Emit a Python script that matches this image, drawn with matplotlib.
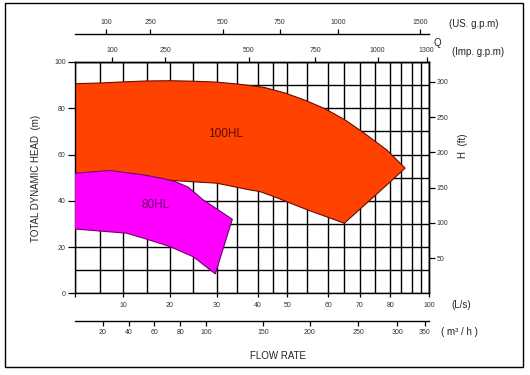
import numpy as np
import matplotlib
matplotlib.use("Agg")
import matplotlib.pyplot as plt
from matplotlib.patches import Rectangle
from matplotlib.ticker import NullLocator

plt.rcParams["font.family"] = ["Liberation Sans", "DejaVu Sans"]

W, H = 530, 375

# nonlinear flow scale of the printed chart: L/s value -> offset along the axis
SCALE_LPS = [0, 5, 10, 15, 20, 25, 30, 35, 40, 45, 50, 55, 60, 65, 70, 75, 80, 85, 90, 95, 100]
SCALE_POS = [0.0, 25.3, 48.6, 72.0, 95.3, 118.6, 142.0, 162.0, 183.3, 198.6, 212.6,
             232.6, 253.6, 269.6, 285.3, 300.6, 315.6, 326.0, 337.0, 346.0, 354.6]

# unit conversions to L/s
M3H_TO_LPS = 1 / 3.6
IMP_TO_LPS = 0.0757682
US_TO_LPS = 0.0630902
M_TO_FT = 1 / 0.3048

LPS_TICKS = [0, 10, 20, 30, 40, 50, 60, 70, 80, 100]
LPS_LABELS = ["", "10", "20", "30", "40", "50", "60", "70", "80", "100"]
M3H_TICKS = [20, 40, 60, 80, 100, 150, 200, 250, 300, 350]
IMP_TICKS = [100, 250, 500, 750, 1000, 1300]
US_TICKS = [100, 250, 500, 750, 1000, 1500]
HEAD_M_TICKS = [0, 20, 40, 60, 80, 100]
HEAD_FT_TICKS = [50, 100, 150, 200, 250, 300]

# 100HL envelope (L/s, m)
hl100_top_q = [0, 5, 10, 15, 20, 25, 30, 35, 40, 42.3, 49.2, 54.4, 59.2, 65.2, 71.6, 78.8, 87.0]
hl100_top_h = [90.6, 90.9, 91.4, 91.8, 91.9, 91.7, 91.3, 90.5, 89.4, 88.9, 86.6, 83.5,
               79.8, 75.0, 69.0, 62.0, 54.1]
hl100_bot_q = [0, 15, 21.1, 30, 38.1, 40.6, 45, 55, 60, 65]
hl100_bot_h = [50.5, 49.5, 48.7, 47.6, 44.7, 44.0, 41.9, 36.1, 32.8, 30.3]

# 80HL envelope (L/s, m)
hl80_top_q = [0, 7.1, 14.3, 18.5, 21.1, 23.9, 27.1, 30, 33.9]
hl80_top_h = [51.9, 53.1, 51.2, 49.6, 48.3, 45.9, 40.4, 36.5, 32.0]
hl80_bot_q = [0, 10.7, 15, 20, 25, 29.7]
hl80_bot_h = [27.8, 26.0, 23.4, 20.2, 15.8, 8.4]


def fwd(v):
    v = np.asarray(v, dtype=float)
    out = np.interp(v, SCALE_LPS, SCALE_POS)
    out = np.where(v < 0, v * SCALE_POS[1] / 5, out)
    out = np.where(v > 100, SCALE_POS[-1] + (v - 100) * 8.6 / 5, out)
    return out


def inv(p):
    p = np.asarray(p, dtype=float)
    out = np.interp(p, SCALE_POS, SCALE_LPS)
    out = np.where(p < 0, p * 5 / SCALE_POS[1], out)
    out = np.where(p > SCALE_POS[-1], 100 + (p - SCALE_POS[-1]) * 5 / 8.6, out)
    return out


def fx(x):
    return x / W


def fy(y):
    return 1 - y / H


def flow_twin(parent, values, factor, spine_pos):
    t = parent.twiny()
    t.set_xscale("function", functions=(fwd, inv))
    t.set_xlim(0, 100)
    for s in t.spines.values():
        s.set_visible(False)
    side = "bottom" if spine_pos < 0.5 else "top"
    t.xaxis.set_ticks_position(side)
    t.spines[side].set_visible(True)
    t.spines[side].set_position(("axes", spine_pos))
    t.spines[side].set_linewidth(1.0)
    t.set_xticks([v * factor for v in values])
    t.set_xticklabels([str(v) for v in values])
    t.xaxis.set_minor_locator(NullLocator())
    t.tick_params(axis="x", direction="out", length=3.5, width=0.9, pad=2.5,
                  labelsize=5, labelcolor="#333333")
    return t


fig = plt.figure(figsize=(W / 100, H / 100), dpi=100)
ax = fig.add_axes([fx(74.7), fy(293.3), (429.3 - 74.7) / W, (293.3 - 62) / H])

ax.set_xscale("function", functions=(fwd, inv))
ax.set_xlim(0, 100)
ax.set_ylim(0, 100)

ax.set_xticks(LPS_TICKS)
ax.set_xticklabels(LPS_LABELS)
ax.set_xticks(np.arange(0, 101, 5), minor=True)
ax.set_yticks(HEAD_M_TICKS)
ax.set_yticks(np.arange(0, 101, 10), minor=True)
ax.xaxis.remove_overlapping_locs = False
ax.yaxis.remove_overlapping_locs = False
ax.grid(which="minor", color="black", linewidth=1.0)
ax.grid(which="major", visible=False)
ax.set_axisbelow(True)
ax.tick_params(which="minor", length=0)
ax.tick_params(axis="x", direction="out", length=3, width=0.9, pad=3,
               labelsize=5, labelcolor="#333333")
ax.tick_params(axis="y", direction="out", length=5, width=0.9, pad=1.5,
               labelsize=5, labelcolor="#333333")
for s in ax.spines.values():
    s.set_linewidth(1.0)

# operating envelopes
ax.fill(hl100_top_q + [74.9] + hl100_bot_q[::-1],
        hl100_top_h + [42.2] + hl100_bot_h[::-1],
        facecolor="#ff4200", edgecolor="#6b0a00", linewidth=0.8, zorder=2)
ax.fill(hl80_top_q + hl80_bot_q[::-1],
        hl80_top_h + hl80_bot_h[::-1],
        facecolor="#ff00ff", edgecolor="#700070", linewidth=0.8, zorder=3)
ax.text(32.3, 69, "100HL", fontsize=8.5, color="#5a0a00", ha="center", va="center", zorder=4)
ax.text(17, 38.2, "80HL", fontsize=8.5, color="#6a0070", ha="center", va="center", zorder=4)

# right axis in feet
axr = ax.twinx()
axr.set_ylim(0, 100 * M_TO_FT)
axr.set_yticks(HEAD_FT_TICKS)
axr.yaxis.set_minor_locator(NullLocator())
for s in axr.spines.values():
    s.set_visible(False)
axr.spines["right"].set_visible(True)
axr.spines["right"].set_linewidth(1.0)
axr.tick_params(axis="y", direction="out", length=4, width=0.9, pad=1.5,
                labelsize=5, labelcolor="#333333")

# extra flow scales
flow_twin(ax, M3H_TICKS, M3H_TO_LPS, -0.1185)
flow_twin(ax, IMP_TICKS, IMP_TO_LPS, 1.0)
flow_twin(ax, US_TICKS, US_TO_LPS, 1.121)

lab = dict(fontsize=7, color="#222222", va="center")
fig.text(fx(36), fy(178), "TOTAL DYNAMIC HEAD  (m)", rotation=90, ha="center", **lab)
fig.text(fx(463), fy(146), "H  (ft)", rotation=90, ha="center", **lab)
fig.text(fx(278), fy(356), "FLOW RATE", ha="center", **lab)
fig.text(fx(451), fy(305), "(L/s)", ha="left", **lab)
fig.text(fx(441), fy(332), "( m\u00b3 / h )", ha="left", **lab)
fig.text(fx(452), fy(51.7), "(Imp. g.p.m)", ha="left", **lab)
fig.text(fx(449), fy(24), "(US. g.p.m)", ha="left", **lab)
fig.text(fx(437.7), fy(43), "Q", ha="center", **lab)

fig.add_artist(Rectangle((fx(4.7), fy(367.3)), (522.7 - 4.7) / W, (367.3 - 2.7) / H,
                         transform=fig.transFigure, fill=False,
                         edgecolor="black", linewidth=1.0))

fig.savefig("out.png", dpi=100)
